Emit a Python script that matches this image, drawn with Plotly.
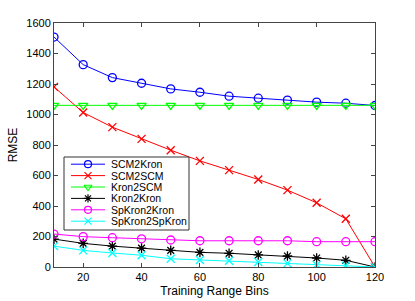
import plotly.graph_objects as go

bins = [10, 20, 30, 40, 50, 60, 70, 80, 90, 100, 110, 120]
scm2kron = [1508, 1327, 1242, 1205, 1168, 1146, 1120, 1107, 1094, 1081, 1074, 1059]
scm2scm = [1181, 1013, 917, 840, 766, 696, 635, 574, 504, 421, 316, 0]
kron2scm = [1060] * 12
kron2kron = [183, 155, 137, 124, 109, 96, 90, 79, 72, 59, 44, 0]
spkron2kron = [216, 199, 192, 185, 177, 172, 172, 172, 172, 166, 166, 166]
spkron2spkron = [137, 109, 92, 77, 54, 46, 41, 33, 24, 14, 9, 0]

names = ["SCM2Kron", "SCM2SCM", "Kron2SCM", "Kron2Kron", "SpKron2Kron", "SpKron2SpKron"]
values = [scm2kron, scm2scm, kron2scm, kron2kron, spkron2kron, spkron2spkron]
colors = ["#0000ff", "#ff0000", "#00ff00", "#000000", "#ff00ff", "#00ffff"]
symbols = ["circle-open", "x-thin-open", "triangle-down-open", "asterisk-open",
           "circle-open", "x-thin-open"]

# plot area in pixels
W, H = 415, 301
ML, MR, MT, MB = 54, 40, 23, 34
PW, PH = W - ML - MR, H - MT - MB

fig = go.Figure()
for name, vals, col, sym in zip(names, values, colors, symbols):
    fig.add_trace(go.Scatter(
        x=bins, y=vals, name=name, mode="lines+markers", showlegend=False,
        line=dict(color=col, width=1),
        marker=dict(symbol=sym, size=8, color=col, line=dict(color=col, width=1.3)),
    ))

# custom compact legend (MATLAB style), drawn on a pixel-unit overlay axis
LEG_X0, LEG_X1, LEG_Y0, LEG_Y1 = 10, 135, 134, 207
ROW0, ROWSTEP = 141.2, 11.4
fig.add_trace(go.Scatter(
    x=[LEG_X0, LEG_X1, LEG_X1, LEG_X0, LEG_X0], y=[LEG_Y0, LEG_Y0, LEG_Y1, LEG_Y1, LEG_Y0],
    mode="lines", fill="toself", fillcolor="white", line=dict(color="#333", width=1),
    xaxis="x2", yaxis="y2", showlegend=False, hoverinfo="skip"))
for i, (name, col, sym) in enumerate(zip(names, colors, symbols)):
    yy = ROW0 + i * ROWSTEP
    fig.add_trace(go.Scatter(
        x=[17, 51], y=[yy, yy], mode="lines", xaxis="x2", yaxis="y2",
        line=dict(color=col, width=1), showlegend=False, hoverinfo="skip"))
    fig.add_trace(go.Scatter(
        x=[34], y=[yy], mode="markers", xaxis="x2", yaxis="y2",
        marker=dict(symbol=sym, size=7, color=col, line=dict(color=col, width=1.2)),
        showlegend=False, hoverinfo="skip"))
    fig.add_annotation(x=56, y=yy, xref="x2", yref="y2", text=name, showarrow=False,
                       xanchor="left", yanchor="middle", borderpad=0,
                       font=dict(size=10.5, color="black"))

fig.update_layout(
    width=W, height=H,
    margin=dict(l=ML, r=MR, t=MT, b=MB),
    paper_bgcolor="white", plot_bgcolor="white",
    font=dict(family="Liberation Sans, Arial, sans-serif", size=11, color="black"),
    showlegend=False,
    xaxis=dict(
        range=[10, 120], tickvals=[20, 40, 60, 80, 100, 120],
        ticks="inside", ticklen=4, tickcolor="#444", mirror="ticks",
        showline=True, linecolor="#444", linewidth=1, showgrid=False, zeroline=False,
        automargin=False,
        title=dict(text="Training Range Bins", standoff=4, font=dict(size=12)),
    ),
    yaxis=dict(
        range=[0, 1600], tickvals=[0, 200, 400, 600, 800, 1000, 1200, 1400, 1600],
        ticks="inside", ticklen=4, tickcolor="#444", mirror="ticks",
        showline=True, linecolor="#444", linewidth=1, showgrid=False, zeroline=False,
        automargin=False,
        title=dict(text="RMSE", standoff=6, font=dict(size=12)),
    ),
    xaxis2=dict(overlaying="x", range=[0, PW], visible=False, automargin=False),
    yaxis2=dict(overlaying="y", range=[PH, 0], visible=False, automargin=False),
)

fig.write_html("out.html", config={"displayModeBar": False},
               post_script="document.body.style.margin='0';document.body.style.overflow='hidden';")
